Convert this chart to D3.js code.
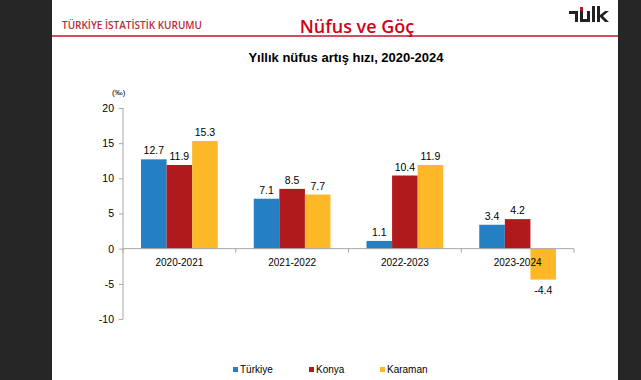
<!DOCTYPE html>
<html>
<head>
<meta charset="utf-8">
<script src="https://cdn.jsdelivr.net/npm/d3@7"></script>
<style>
  body { margin: 0; background: #262626; }
  svg { display: block; }
</style>
</head>
<body>
<svg id="chart" width="641" height="380"></svg>
<script>
var categories = ["2020-2021", "2021-2022", "2022-2023", "2023-2024"];
var seriesNames = ["Türkiye", "Konya", "Karaman"];
var turkiye = [12.7, 7.1, 1.1, 3.4];
var konya = [11.9, 8.5, 10.4, 4.2];
var karaman = [15.3, 7.7, 11.9, -4.4];
var yTicks = [-10, -5, 0, 5, 10, 15, 20];
var colors = ["#2580c3", "#b11a1c", "#fdb827"];

var seriesValues = [turkiye, konya, karaman];

var svg = d3.select("#chart");

// white slide panel
svg.append("rect").attr("x", 52).attr("y", 0).attr("width", 566).attr("height", 380).attr("fill", "#fff");
svg.append("line").attr("x1", 52).attr("x2", 618).attr("y1", 36).attr("y2", 36)
  .attr("stroke", "#c0162c").attr("stroke-width", 1.5);

svg.append("text").attr("x", 62).attr("y", 29)
  .style("font-family", "Open Sans").style("font-weight", 600).style("font-size", "10px")
  .attr("fill", "#b92c3c").text("TÜRKİYE İSTATİSTİK KURUMU");

svg.append("text").attr("x", 357).attr("y", 33).attr("text-anchor", "middle")
  .style("font-family", "Open Sans").style("font-weight", 600).style("font-size", "18px")
  .attr("fill", "#d0021b").text("Nüfus ve Göç");

// logo
var logo = svg.append("g").attr("transform", "translate(569,6)");
logo.append("path").attr("fill", "#222")
  .attr("d", "M0,5 h9 v11 h-3 v-8 h-6 z M11,5 h3 v8 h4 v-8 h3 v11 h-10 z M23,0 h3 v16 h-3 z M28,0 h3 v9 l5,-4 h4 l-6,5 l6,6 h-4 l-5,-5 v5 h-3 z");
logo.append("rect").attr("x", 11).attr("y", 1).attr("width", 3).attr("height", 4).attr("fill", "#c0162c");

svg.append("text").attr("x", 346).attr("y", 62).attr("text-anchor", "middle")
  .style("font-family", "Liberation Sans").style("font-weight", "bold").style("font-size", "13px")
  .attr("fill", "#000").text("Yıllık nüfus artış hızı, 2020-2024");

var y = d3.scaleLinear().domain([-10, 20]).range([319, 108]);
var x0 = d3.scaleBand().domain(categories).range([123, 574]);
var x1 = d3.scaleBand().domain(seriesNames).range([18, x0.bandwidth() - 18]);

svg.append("text").attr("x", 112).attr("y", 95)
  .style("font-family", "Liberation Sans").style("font-size", "8px").text("(‰)");

// y axis
var yAxis = svg.append("g").attr("transform", "translate(123,0)")
  .call(d3.axisLeft(y).tickValues(yTicks).tickFormat(String).tickSize(4).tickPadding(5));
yAxis.selectAll("path, line").attr("stroke", "#a6a6a6");
yAxis.select(".domain").attr("d", "M0," + y(20) + "V" + y(-10));
yAxis.selectAll("text").style("font-family", "Liberation Sans").style("font-size", "10.5px").attr("fill", "#000");

// bars
categories.forEach(function(cat, i) {
  seriesValues.forEach(function(vals, s) {
    var v = vals[i];
    var bx = x0(cat) + x1(seriesNames[s]);
    svg.append("rect")
      .attr("x", bx).attr("width", x1.bandwidth())
      .attr("y", y(Math.max(0, v))).attr("height", Math.abs(y(v) - y(0)))
      .attr("fill", colors[s]);
    svg.append("text")
      .attr("x", bx + x1.bandwidth() / 2)
      .attr("y", v >= 0 ? y(v) - 5 : y(v) + 14)
      .attr("text-anchor", "middle")
      .style("font-family", "Liberation Sans").style("font-size", "10.5px")
      .text(v.toFixed(1));
  });
});

// x axis along zero
var xAxis = svg.append("g").attr("transform", "translate(0," + y(0) + ")");
xAxis.append("line").attr("x1", 123).attr("x2", 574).attr("stroke", "#a6a6a6");
var bounds = categories.map(function(c) { return x0(c); }).concat([574]);
xAxis.selectAll(".tk").data(bounds).enter().append("line")
  .attr("x1", function(d) { return d; }).attr("x2", function(d) { return d; })
  .attr("y1", 0).attr("y2", 4).attr("stroke", "#a6a6a6");
xAxis.selectAll(".lbl").data(categories).enter().append("text")
  .attr("x", function(d) { return x0(d) + x0.bandwidth() / 2; })
  .attr("y", 17).attr("text-anchor", "middle")
  .style("font-family", "Liberation Sans").style("font-size", "10px")
  .text(function(d) { return d; });

// legend
var legendX = [233, 309, 380];
seriesNames.forEach(function(name, s) {
  svg.append("rect").attr("x", legendX[s]).attr("y", 367).attr("width", 5).attr("height", 5).attr("fill", colors[s]);
  svg.append("text").attr("x", legendX[s] + 7).attr("y", 373)
    .style("font-family", "Liberation Sans").style("font-size", "10px").text(name);
});
</script>
</body>
</html>
